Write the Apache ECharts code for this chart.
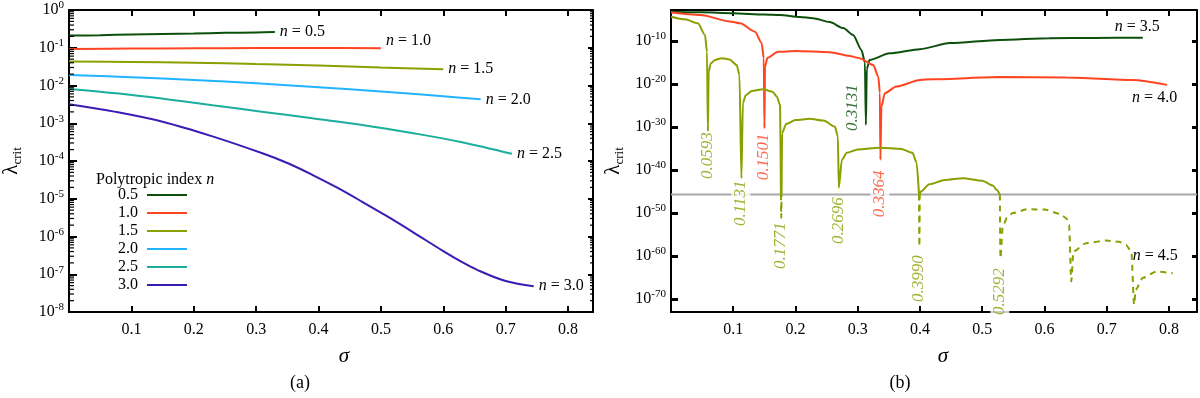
<!DOCTYPE html>
<html><head><meta charset="utf-8">
<script src="https://cdn.jsdelivr.net/npm/echarts@6/dist/echarts.min.js"></script>
<style>html,body{margin:0;padding:0;background:#fff}#c{width:1200px;height:398px}</style>
</head><body><div id="c"></div>
<script>
// ---------- Panel (a): lambda_crit vs sigma, n = 0.5 ... 3.0 ----------
const n05 = [[0,0.21],[0.05,0.215],[0.1,0.225],[0.15,0.233],[0.2,0.24],[0.25,0.248],[0.3,0.255],[0.33,0.26]];
const n10 = [[0,0.092],[0.1,0.095],[0.2,0.097],[0.3,0.098],[0.4,0.098],[0.5,0.097]];
const n15 = [[0,0.043],[0.1,0.042],[0.2,0.040],[0.3,0.037],[0.4,0.034],[0.5,0.030],[0.6,0.027]];
const n20 = [[0,0.019],[0.1,0.0165],[0.2,0.014],[0.3,0.0115],[0.4,0.009],[0.5,0.0069],[0.6,0.0052],[0.66,0.0043]];
const n25 = [[0,0.0081],[0.08,0.0061],[0.153,0.0044],[0.23,0.003],[0.312,0.002],[0.39,0.00135],[0.47,9e-4],[0.55,5.5e-4],[0.628,3.2e-4],[0.71,1.55e-4]];
const n30 = [[0,3.2e-3],[0.075,2.0e-3],[0.15,1.1e-3],[0.23,4.5e-4],[0.31,1.6e-4],[0.351,8.7e-5],[0.39,4.3e-5],[0.43,1.96e-5],[0.47,8.3e-6],[0.509,3.5e-6],[0.55,1.35e-6],[0.6,4.1e-7],[0.628,2.2e-7],[0.655,1.29e-7],[0.7,6.6e-8],[0.745,4.8e-8]];
const legendNamesA = ['0.5','1.0','1.5','2.0','2.5','3.0'];

// ---------- Panel (b): n = 3.5, 4.0, 4.5 ----------
const n35 = [[0,6.3e-4],[0.05,4.5e-4],[0.1,2.7e-4],[0.15,1.45e-4],[0.175,1.1e-4],[0.207,3.8e-5],[0.228,2.0e-5],[0.255,2.5e-6],[0.2766,1e-7],[0.2926,2.5e-9],[0.306,7.9e-13],[0.3115,1e-15],[0.3131,3.2e-30],[0.3145,3.2e-17],[0.319,4e-15],[0.3515,1.38e-13],[0.4,1.26e-12],[0.448,3.2e-11],[0.528,1.7e-10],[0.608,4.3e-10],[0.68,5.2e-10],[0.758,5.9e-10]];
const n40 = [[0,4.7e-4],[0.047,1.1e-4],[0.0974,3.0e-6],[0.111,1.26e-6],[0.135,1.45e-8],[0.1456,3.5e-11],[0.149,1e-14],[0.1501,5e-31],[0.151,1e-16],[0.155,1.26e-14],[0.172,3.2e-13],[0.2,4.5e-13],[0.255,2.5e-13],[0.287,3.2e-14],[0.303,1e-14],[0.325,2.5e-16],[0.333,5e-19],[0.3355,1e-22],[0.3364,2.5e-38],[0.338,5e-26],[0.3435,7.1e-23],[0.362,2.5e-21],[0.4,8.7e-20],[0.42,1.26e-19],[0.528,4e-19],[0.635,3.2e-19],[0.742,8.7e-20],[0.797,6.3e-21]];
const thresholdLambda = 2e-46;
const n45 = [[0,4.4e-5],[0.0225,1.1e-5],[0.0433,1.26e-6],[0.0546,2.5e-9],[0.0578,3.2e-13],[0.0593,8.5e-32],[0.0605,7.9e-18],[0.064,6.3e-16],[0.071,4e-15],[0.0814,1e-14],[0.094,5e-15],[0.1055,2.5e-16],[0.11,1.26e-18],[0.1131,1.26e-42],[0.1155,3.2e-25],[0.12,2.5e-23],[0.13,2.5e-22],[0.148,6.3e-22],[0.163,1.6e-22],[0.17,1.26e-23],[0.1752,1.26e-25],[0.1766,2e-46],[0.1771,7.9e-52],[0.1776,2e-46],[0.1785,4e-32],[0.185,5e-30],[0.2,4e-29],[0.223,7.9e-29],[0.245,3.2e-29],[0.263,1.26e-30],[0.268,7.9e-33],[0.2696,7.9e-45],[0.2745,2.5e-38],[0.2825,1e-36],[0.3,6.3e-36],[0.335,1.6e-35],[0.37,7.9e-36],[0.388,1e-36],[0.3945,5e-39],[0.3984,2e-46],[0.399,1.6e-58],[0.3996,2e-46],[0.4015,1e-45],[0.415,5e-44],[0.44,5e-43],[0.469,1.26e-42],[0.5,3.2e-43],[0.517,2.5e-44],[0.523,2.5e-45],[0.5283,2e-46],[0.5292,3.2e-61],[0.533,7.9e-54],[0.54,1e-51],[0.549,1e-50],[0.573,7.9e-50],[0.6,6.3e-50],[0.625,6.3e-51],[0.635,6.3e-52],[0.6395,2e-53],[0.643,1.26e-66],[0.6465,1.26e-59],[0.667,1e-57],[0.699,4e-57],[0.72,2e-57],[0.731,4e-58],[0.7395,1e-59],[0.744,5e-72],[0.7465,1.6e-68],[0.758,8.9e-66],[0.78,2.5e-64],[0.806,1e-64]];
const dipSigma = [0.0593,0.1131,0.1501,0.1771,0.2696,0.3131,0.3364,0.3990,0.5292];
const dipLabelLambda = [7.9e-32,5e-43,4e-32,1e-52,6.3e-47,6.3e-21,1e-40,2e-60,2e-63];
const dipCurve = ['4.5','4.5','4.0','4.5','4.5','3.5','4.0','4.5','4.5'];

// ---------- Axis ticks ----------
const xTicks = [0.1,0.2,0.3,0.4,0.5,0.6,0.7,0.8];
const yTicksA = [1,1e-1,1e-2,1e-3,1e-4,1e-5,1e-6,1e-7,1e-8];
const yTicksB = [1e-10,1e-20,1e-30,1e-40,1e-50,1e-60,1e-70];
const xRangeA = [0, 0.84], yRangeA = [1e-8, 1];
const xRangeB = [0, 0.845], yRangeB = [Math.pow(10,-73), Math.pow(10,-2.8)];

// ---------- Styles ----------
const FONT = 'Liberation Serif';
const COL = {'0.5':'#0b500b','1.0':'#ff4422','1.5':'#8c9f00','2.0':'#22b4ff','2.5':'#1aae9c','3.0':'#3c1ab4','3.5':'#0b500b','4.0':'#ff4422','4.5':'#8c9f00'};
const black = '#000';
const supRich = {s:{fontSize:11, lineHeight:11, verticalAlign:'top', fontFamily:FONT, color:black}};
const logFmt = v => '10{s|' + Math.round(Math.log10(v)) + '}';
const nameRich = {l:{fontSize:21, fontFamily:FONT, color:black}, s:{fontSize:13, fontFamily:FONT, color:black, verticalAlign:'bottom', padding:[12,0,0,0]}};
const italicRich = {i:{fontStyle:'italic', fontSize:16, fontFamily:FONT, color:black}};

function xAxis(grid, range, top, padLeft){
  return {
    type:'value', gridIndex:grid, min:range[0], max:range[1], position: top ? 'top':'bottom',
    axisLine:{show:true, onZero:false, lineStyle:{color:black, width:2}},
    axisTick:{show:true, inside:true, length:6, lineStyle:{color:black, width:2}, customValues:xTicks},
    axisLabel:{show:!top, customValues:xTicks, margin:10, fontSize:16, fontFamily:FONT, color:black, formatter: v => v.toFixed(1)},
    splitLine:{show:false},
    name: top ? '' : 'σ', nameLocation:'middle', nameGap:34,
    nameTextStyle:{fontSize:21, fontStyle:'italic', fontFamily:FONT, color:black, padding:[0,0,0,padLeft||0]}
  };
}
function yAxis(grid, range, ticks, right, tickLen, tickW, showName){
  return {
    type:'log', logBase:10, gridIndex:grid, min:range[0], max:range[1], position: right ? 'right':'left',
    axisLine:{show:true, onZero:false, lineStyle:{color:black, width:2}},
    axisTick:{show:true, inside:true, length:tickLen, lineStyle:{color:black, width:tickW}, customValues:ticks},
    axisLabel:{show:!right, customValues:ticks, margin:5, fontSize:16, lineHeight:20, fontFamily:FONT, color:black, formatter:logFmt, rich:supRich},
    splitLine:{show:false}, minorTick:{show:false},
    name: showName ? '{l|λ}{s|crit}' : '', nameLocation:'middle', nameGap:45, nameRotate:90,
    nameTextStyle:{rich:nameRich}
  };
}

function curve(name, data, color, xi, yi, labelCfg, dashed){
  return {
    type:'line', name, data, xAxisIndex:xi, yAxisIndex:yi, color,
    symbol:'none', showSymbol:false, connectNulls:false,
    smooth: xi===0 ? 0.35 : 0.25, smoothMonotone: xi===0 ? undefined : 'x',
    lineStyle:{color, width:2, type: dashed ? [6,5] : 'solid'},
    emphasis:{disabled:true}, silent:true, z:3,
    endLabel: labelCfg ? Object.assign({show:true, distance:5, fontSize:16, fontFamily:FONT, color:black,
      formatter:'{i|n} = ' + labelCfg.text, rich:italicRich}, labelCfg.extra || {}) : {show:false}
  };
}

const series = [];
// Panel (a)
[[n05,'0.5',{}],[n10,'1.0',{offset:[0,-7]}],[n15,'1.5',{}],[n20,'2.0',{}],[n25,'2.5',{}],[n30,'3.0',{}]].forEach(([d,nm,ex]) => {
  series.push(curve(nm, d, COL[nm], 0, 0, {text:nm, extra:ex}));
});
// minor log ticks for panel (a)
const minorA = [];
for (let k = -8; k < 0; k++) for (let m = 2; m <= 9; m++) minorA.push([xRangeA[0], m*Math.pow(10,k)]);
series.push({
  type:'custom', name:'minor', xAxisIndex:0, yAxisIndex:0, data:minorA, clip:false, silent:true, z:4,
  renderItem:(p, api) => {
    const v = api.value(1);
    const a = api.coord([xRangeA[0], v]), b = api.coord([xRangeA[1], v]);
    return {type:'group', children:[
      {type:'line', shape:{x1:a[0], y1:a[1], x2:a[0]+5, y2:a[1]}, style:{stroke:black, lineWidth:1.2}},
      {type:'line', shape:{x1:b[0], y1:b[1], x2:b[0]-3, y2:b[1]}, style:{stroke:black, lineWidth:1.2}}
    ]};
  }
});
// Panel (b): threshold line
series.push({type:'line', name:'threshold', xAxisIndex:2, yAxisIndex:2, symbol:'none', silent:true, z:2,
  data:[[xRangeB[0], thresholdLambda],[xRangeB[1], thresholdLambda]],
  lineStyle:{color:'#a8a8a8', width:2}, emphasis:{disabled:true}});
series.push(curve('n = 3.5', n35, COL['3.5'], 2, 2, {text:'3.5', extra:{offset:[-33,-11]}}));
series.push(curve('n = 4.0', n40, COL['4.0'], 2, 2, {text:'4.0', extra:{offset:[-40,13]}}));
const tol = 1.0001;
const n45Solid = n45.map(([s,l]) => [s, l*tol >= thresholdLambda ? l : '-']);
const n45Dashed = n45.map(([s,l]) => [s, l <= thresholdLambda*tol ? l : '-']);
series.push(curve('n = 4.5', n45Solid, COL['4.5'], 2, 2, null, false));
series.push(curve('n = 4.5 dashed', n45Dashed, COL['4.5'], 2, 2, {text:'4.5', extra:{offset:[-45,-17]}}, true));
// dip labels
series.push({
  type:'scatter', name:'dips', xAxisIndex:2, yAxisIndex:2, symbolSize:1, silent:true, z:6,
  itemStyle:{color:'rgba(0,0,0,0)'},
  data: dipSigma.map((s,i) => {
    const left = dipCurve[i] === '3.5';
    return {value:[s, dipLabelLambda[i]], label:{
      show:true, position:[0,0], rotate:90, align:'right', verticalAlign: left ? 'bottom':'middle',
      formatter: s.toFixed(4), fontSize:17, fontStyle:'italic', fontFamily:FONT, color:COL[dipCurve[i]],
      backgroundColor: left ? 'transparent' : '#fff', padding: left ? [0,0,4,0] : [1,1,1,1]
    }};
  })
});

const option = {
  animation:false, backgroundColor:'#fff',
  grid:[{left:63, top:10, width:530, height:302}, {left:671, top:10, width:526, height:302}],
  xAxis:[xAxis(0, xRangeA, false, 26), xAxis(0, xRangeA, true), xAxis(1, xRangeB, false, 18), xAxis(1, xRangeB, true)],
  yAxis:[yAxis(0, yRangeA, yTicksA, false, 8, 2, true), yAxis(0, yRangeA, yTicksA, true, 5, 2, false),
         yAxis(1, yRangeB, yTicksB, false, 7, 3, true), yAxis(1, yRangeB, yTicksB, true, 5, 3, false)],
  title:{text:'Polytropic index {i|n}', left:96, top:172, padding:0,
    textStyle:{fontSize:16, fontWeight:'normal', fontFamily:FONT, color:black, rich:italicRich}},
  legend:{data:legendNamesA, orient:'vertical', left:118, top:187, align:'right', icon:'rect',
    itemWidth:40, itemHeight:2, itemGap:2, selectedMode:false, padding:0,
    textStyle:{fontSize:16, lineHeight:16, fontFamily:FONT, color:black, padding:[0,4,0,0]}},
  graphic:[
    {type:'text', x:300, y:383, style:{text:'(a)', font:'18px "Liberation Serif"', fill:black, textAlign:'center', textVerticalAlign:'middle'}},
    {type:'text', x:900, y:383, style:{text:'(b)', font:'18px "Liberation Serif"', fill:black, textAlign:'center', textVerticalAlign:'middle'}}
  ],
  series
};
echarts.init(document.getElementById('c'), null, {renderer:'canvas'}).setOption(option);
</script></body></html>
